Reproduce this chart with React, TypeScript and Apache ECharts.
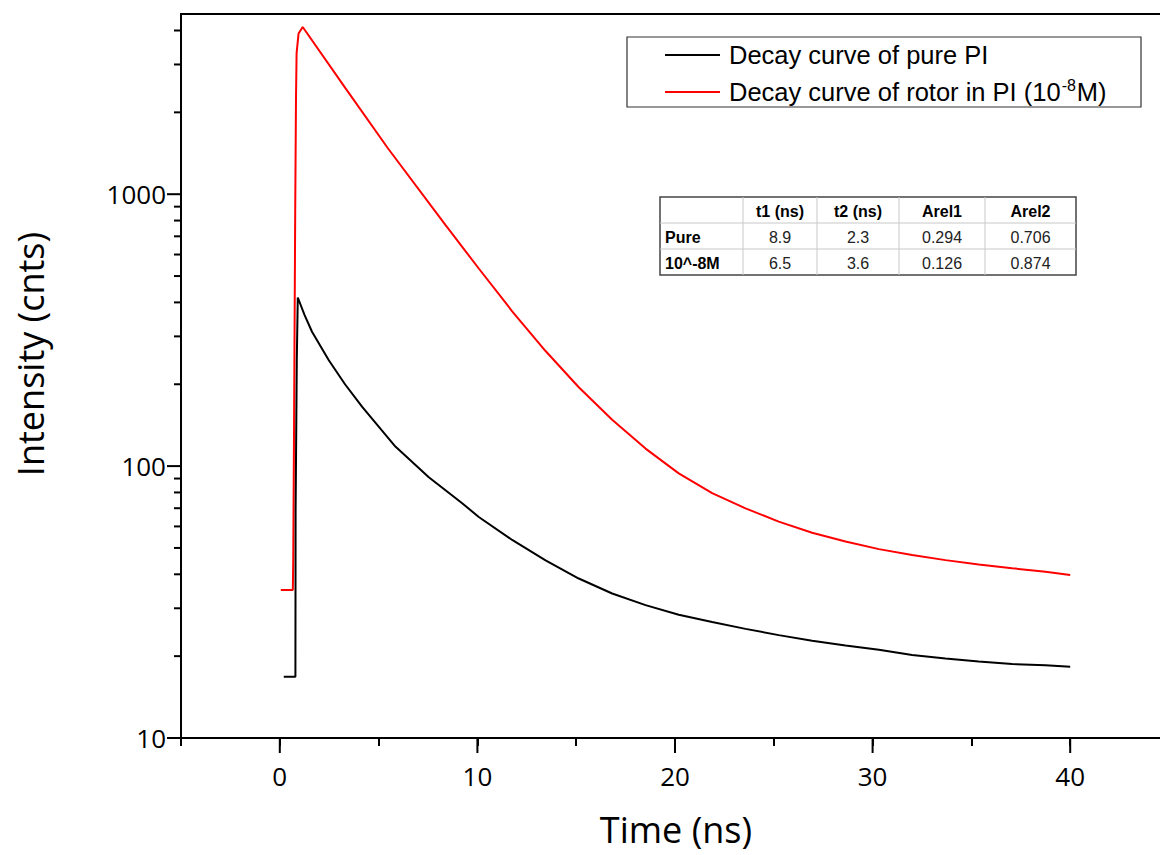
import React, { useEffect, useRef } from "react";
import * as echarts from "echarts";

// ---- Data ----
const pureTime = [0.2, 0.79, 0.8, 0.86, 0.91, 1.25, 1.63, 2.48, 3.3, 4.17, 5.85, 7.54, 9.23, 10.07, 11.76, 13.45, 15.13, 16.82, 18.51, 20.19, 21.88, 23.57, 25.25, 26.94, 28.63, 30.32, 32.0, 33.69, 35.37, 37.06, 38.75, 40.0];
const pureIntensity = [16.8, 16.8, 69, 245, 417, 360, 312, 245, 200, 165, 118, 91, 73, 65, 53.5, 45, 38.6, 34, 30.8, 28.4, 26.7, 25.2, 23.9, 22.8, 21.9, 21.1, 20.2, 19.6, 19.1, 18.7, 18.5, 18.3];

const rotorTime = [0.05, 0.66, 0.68, 0.72, 0.78, 0.82, 0.85, 0.95, 1.16, 3.32, 5.47, 8.39, 10.07, 11.76, 13.45, 15.13, 16.82, 18.51, 20.19, 21.88, 23.57, 25.25, 26.94, 28.63, 30.32, 32.0, 33.69, 35.37, 37.06, 38.75, 40.0];
const rotorIntensity = [35, 35, 45, 132, 870, 2270, 3300, 3900, 4120, 2455, 1476, 769, 533, 371, 265, 195, 148, 116, 94, 79.5, 69.9, 62.5, 56.9, 52.8, 49.5, 47.1, 45.1, 43.5, 42.1, 40.9, 39.8];

const xMajorTicks = [0, 10, 20, 30, 40];
const yMajorTicks = [10, 100, 1000];
const yMinorTicks = [20, 30, 40, 50, 60, 70, 80, 90, 200, 300, 400, 500, 600, 700, 800, 900, 2000, 3000, 4000];
const yLabelValues = [10, 100, 1000];

const seriesNames = ["Decay curve of pure PI", "Decay curve of rotor in PI (10"];
const seriesColors = ["#000000", "#ff0000"];

const tableHeader = ["", "t1 (ns)", "t2 (ns)", "Arel1", "Arel2"];
const tableRowLabels = ["Pure", "10^-8M"];
const tableValues = [
  ["8.9", "2.3", "0.294", "0.706"],
  ["6.5", "3.6", "0.126", "0.874"],
];

const X_MIN = -5;
const X_MAX = 45;
const Y_MIN = 10;
const Y_MAX = 4600;

function zip(a: number[], b: number[]) {
  return a.map((v, i) => [v, b[i]]);
}

export default function App() {
  const ref = useRef<HTMLDivElement>(null);

  useEffect(() => {
    if (!ref.current) return;
    const chart = echarts.init(ref.current, undefined, { renderer: "svg" });

    const FONT = "Liberation Sans";
    // table geometry (layout, not data)
    const colX = [660, 743, 817, 899, 985, 1076];
    const rowY = [197, 223, 249, 275];
    const tableEls: any[] = [];
    tableEls.push({
      type: "rect",
      shape: { x: colX[0], y: rowY[0], width: colX[5] - colX[0], height: rowY[3] - rowY[0] },
      style: { fill: "#fff", stroke: "#444", lineWidth: 1.5 },
      z: 10,
    });
    for (let i = 1; i < colX.length - 1; i++) {
      tableEls.push({
        type: "line",
        shape: { x1: colX[i], y1: rowY[0], x2: colX[i], y2: rowY[3] },
        style: { stroke: "#c8c8c8", lineWidth: 1 },
        z: 11,
      });
    }
    for (let j = 1; j < rowY.length - 1; j++) {
      tableEls.push({
        type: "line",
        shape: { x1: colX[0], y1: rowY[j], x2: colX[5], y2: rowY[j] },
        style: { stroke: "#c8c8c8", lineWidth: 1 },
        z: 11,
      });
    }
    tableHeader.forEach((h, i) => {
      if (!h) return;
      tableEls.push({
        type: "text",
        x: (colX[i] + colX[i + 1]) / 2,
        y: (rowY[0] + rowY[1]) / 2 + 1,
        style: { text: h, fontFamily: FONT, fontSize: 16, fontWeight: "bold", fill: "#000", align: "center", verticalAlign: "middle" },
        z: 12,
      });
    });
    tableRowLabels.forEach((lab, r) => {
      tableEls.push({
        type: "text",
        x: colX[0] + 5,
        y: (rowY[r + 1] + rowY[r + 2]) / 2 + 1,
        style: { text: lab, fontFamily: FONT, fontSize: 16, fontWeight: "bold", fill: "#000", align: "left", verticalAlign: "middle" },
        z: 12,
      });
      tableValues[r].forEach((v, c) => {
        tableEls.push({
          type: "text",
          x: (colX[c + 1] + colX[c + 2]) / 2,
          y: (rowY[r + 1] + rowY[r + 2]) / 2 + 1,
          style: { text: v, fontFamily: FONT, fontSize: 16, fill: "#222", align: "center", verticalAlign: "middle" },
          z: 12,
        });
      });
    });

    const legendEls: any[] = [
      {
        type: "rect",
        shape: { x: 627, y: 37, width: 514, height: 70 },
        style: { fill: "#fff", stroke: "#333", lineWidth: 1.2 },
        z: 10,
      },
      {
        type: "line",
        shape: { x1: 665, y1: 55, x2: 720, y2: 55 },
        style: { stroke: seriesColors[0], lineWidth: 2 },
        z: 11,
      },
      {
        type: "line",
        shape: { x1: 665, y1: 92, x2: 720, y2: 92 },
        style: { stroke: seriesColors[1], lineWidth: 2 },
        z: 11,
      },
      {
        type: "text",
        x: 729,
        y: 55,
        style: { text: seriesNames[0], fontFamily: FONT, fontSize: 25.5, fill: "#000", align: "left", verticalAlign: "middle" },
        z: 11,
      },
      {
        type: "text",
        x: 729,
        y: 92,
        style: {
          text: seriesNames[1] + "{sup|-8}M)",
          fontFamily: FONT,
          fontSize: 25.5,
          fill: "#000",
          align: "left",
          verticalAlign: "middle",
          lineHeight: 30,
          rich: {
            sup: { fontFamily: FONT, fontSize: 16, verticalAlign: "top", lineHeight: 30, padding: [0, 1, 10, 1] },
          },
        },
        z: 11,
      },
    ];

    const tickStyle = { stroke: "#000", lineWidth: 2 };

    chart.setOption({
      animation: false,
      backgroundColor: "#fff",
      grid: {
        left: 181,
        top: 14,
        width: 988,
        height: 724,
        show: true,
        borderColor: "#000",
        borderWidth: 2,
        containLabel: false,
        outerBoundsMode: "none",
      },
      xAxis: {
        type: "value",
        min: X_MIN,
        max: X_MAX,
        interval: 5,
        axisLine: { show: true, onZero: false, lineStyle: { color: "#000", width: 2 } },
        axisTick: { show: true, length: 8, lineStyle: { color: "#000", width: 2 } },
        splitLine: { show: false },
        axisLabel: {
          margin: 25,
          fontFamily: "Open Sans",
          fontSize: 26,
          color: "#000",
          formatter: (v: number) => (xMajorTicks.includes(Math.round(v)) ? String(Math.round(v)) : ""),
        },
      },
      yAxis: {
        type: "log",
        logBase: 10,
        min: Y_MIN,
        max: Y_MAX,
        axisLine: { show: true, onZero: false, lineStyle: { color: "#000", width: 2 } },
        axisTick: { show: false },
        splitLine: { show: false },
        axisLabel: {
          margin: 15,
          fontFamily: "Open Sans",
          fontSize: 26,
          color: "#000",
          formatter: (v: number) => (yLabelValues.includes(Math.round(v)) ? String(Math.round(v)) : ""),
        },
      },
      graphic: [
        {
          type: "text",
          x: 676,
          y: 829,
          style: { text: "Time (ns)", fontFamily: "Open Sans", fontSize: 36, lineHeight: 40, fill: "#000", align: "center", verticalAlign: "middle" },
        },
        {
          type: "text",
          x: 30,
          y: 354,
          rotation: Math.PI / 2,
          style: { text: "Intensity (cnts)", fontFamily: "Open Sans", fontSize: 36, lineHeight: 40, fill: "#000", align: "center", verticalAlign: "middle" },
        },
        ...legendEls,
        ...tableEls,
      ],
      series: [
        {
          name: "pure",
          type: "line",
          data: zip(pureTime, pureIntensity),
          showSymbol: false,
          lineStyle: { color: seriesColors[0], width: 2 },
          itemStyle: { color: seriesColors[0] },
          z: 3,
        },
        {
          name: "rotor",
          type: "line",
          data: zip(rotorTime, rotorIntensity),
          showSymbol: false,
          lineStyle: { color: seriesColors[1], width: 2 },
          itemStyle: { color: seriesColors[1] },
          z: 2,
        },
        {
          type: "custom",
          clip: false,
          silent: true,
          data: xMajorTicks.map((v) => [v, Y_MIN]),
          encode: { x: 0, y: 1 },
          renderItem: (params: any, api: any) => {
            const p = api.coord([api.value(0), Y_MIN]);
            return { type: "line", shape: { x1: p[0], y1: p[1], x2: p[0], y2: p[1] + 15 }, style: tickStyle };
          },
          z: 5,
        },
        {
          type: "custom",
          clip: false,
          silent: true,
          data: yMajorTicks.map((v) => [X_MIN, v]),
          encode: { x: 0, y: 1 },
          renderItem: (params: any, api: any) => {
            const p = api.coord([X_MIN, api.value(1)]);
            return { type: "line", shape: { x1: p[0] - 14, y1: p[1], x2: p[0], y2: p[1] }, style: tickStyle };
          },
          z: 5,
        },
        {
          type: "custom",
          clip: false,
          silent: true,
          data: yMinorTicks.map((v) => [X_MIN, v]),
          encode: { x: 0, y: 1 },
          renderItem: (params: any, api: any) => {
            const p = api.coord([X_MIN, api.value(1)]);
            return { type: "line", shape: { x1: p[0] - 7, y1: p[1], x2: p[0], y2: p[1] }, style: tickStyle };
          },
          z: 5,
        },
      ],
    });

    return () => chart.dispose();
  }, []);

  return (
    <div
      ref={ref}
      style={{ position: "absolute", left: 0, top: 0, width: 1160, height: 855, background: "#fff" }}
    />
  );
}
